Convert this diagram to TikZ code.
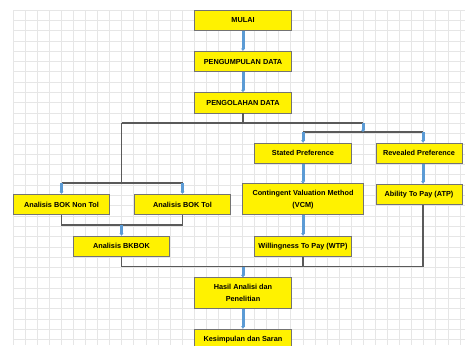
\documentclass[tikz,border=0pt]{standalone}
\usepackage{fontspec}
\setmainfont{Liberation Sans}
\usepackage{xcolor}
\usepackage{tikz}
\usetikzlibrary{positioning,arrows.meta}
\definecolor{flowblue}{HTML}{5B9BD5}
\definecolor{gridgray}{HTML}{E6E6E6}
\definecolor{linegray}{HTML}{5A5A5A}

\begin{document}
\begin{tikzpicture}[
  x=1pt, y=-1pt,
  box/.style={draw=black!55, fill=yellow, line width=0.8pt, align=center, inner sep=0pt,
    font=\bfseries\fontsize{7.3}{12}\selectfont, minimum width=96.6pt, minimum height=20.6pt},
  tall/.style={box, minimum height=30.9pt},
  arrow/.style={-{Latex[length=2.2pt,width=4.6pt]}, line width=3pt, draw=flowblue},
  link/.style={line width=1.2pt, draw=linegray},
  gridline/.style={line width=0.7pt, draw=gridgray},
]
\useasboundingbox (0,0) rectangle (465,345);
% grid background
\foreach \i in {0,...,37}
  \draw[gridline] ({13+12.08*\i},10) -- ({13+12.08*\i},345);
\foreach \j in {0,...,33}
  \draw[gridline] (13,{10+10.3*\j}) -- (465,{10+10.3*\j});

% main column
\node[box] (mulai) at (243,20.3) {MULAI};
\node[box] (kumpul) at (243,61.5) {PENGUMPULAN DATA};
\node[box] (olah) at (243,102.7) {PENGOLAHAN DATA};
% left branch
\node[box] (nontol) at (61.5,204.5) {Analisis BOK Non Tol};
\node[box] (tol) at (182.5,204.5) {Analisis BOK Tol};
\node[box] (bkbok) at (121.5,246.3) {Analisis BKBOK};
% right branch
\node[box] (stated) at (303,153.3) {Stated Preference};
\node[box, minimum width=86pt] (revealed) at (419,153.3) {Revealed Preference};
\node[tall, minimum width=120.8pt] (cvm) at (303,199.3) {Contingent Valuation Method\\(VCM)};
\node[box, minimum width=86pt] (atp) at (419,194.3) {Ability To Pay (ATP)};
\node[box] (wtp) at (303,246.3) {Willingness To Pay (WTP)};
% result
\node[tall] (hasil) at (243,293) {Hasil Analisi dan\\Penelitian};
\node[box] (saran) at (243,339.3) {Kesimpulan dan Saran};

% junction points
\coordinate (split) at (243,123);
\coordinate (splitL) at (121.5,123);
\coordinate (splitR) at (363,123);
\coordinate (prefR) at (363,132);
\coordinate (prefS) at (303,132);
\coordinate (prefV) at (423,132);
\coordinate (bokL) at (121.5,183);
\coordinate (bokN) at (61.5,183);
\coordinate (bokT) at (182.5,183);
\coordinate (joinL) at (121.5,225);
\coordinate (joinN) at (61.5,225);
\coordinate (joinT) at (182.5,225);
\coordinate (endL) at (121.5,266.5);
\coordinate (endM) at (243,266.5);
\coordinate (endW) at (303,266.5);
\coordinate (endR) at (423,266.5);

% gray links
\draw[link] (olah) -- (split);
\draw[link] (splitL) -- (splitR);
\draw[link] (prefS) -- (prefV);
\draw[link] (splitL) -- (bokL);
\draw[link] (bokN) -- (bokT);
\draw[link] (nontol) -- (joinN) -- (joinT) -- (tol);
\draw[link] (bkbok) -- (endL) -- (endR);
\draw[link] (wtp) -- (endW);
\draw[link] ([xshift=4pt]atp.south) -- (endR);

% blue arrows
\draw[arrow] (mulai) -- (kumpul);
\draw[arrow] (kumpul) -- (olah);
\draw[arrow] (splitR) -- (prefR);
\draw[arrow] (prefS) -- (stated);
\draw[arrow] (prefV) -- ([xshift=4pt]revealed.north);
\draw[arrow] (bokN) -- (nontol);
\draw[arrow] (bokT) -- (tol);
\draw[arrow] (joinL) -- (bkbok);
\draw[arrow] (stated) -- (cvm);
\draw[arrow] ([xshift=4pt]revealed.south) -- ([xshift=4pt]atp.north);
\draw[arrow] (cvm) -- (wtp);
\draw[arrow] (endM) -- (hasil);
\draw[arrow] (hasil) -- (saran);
\end{tikzpicture}
\end{document}
